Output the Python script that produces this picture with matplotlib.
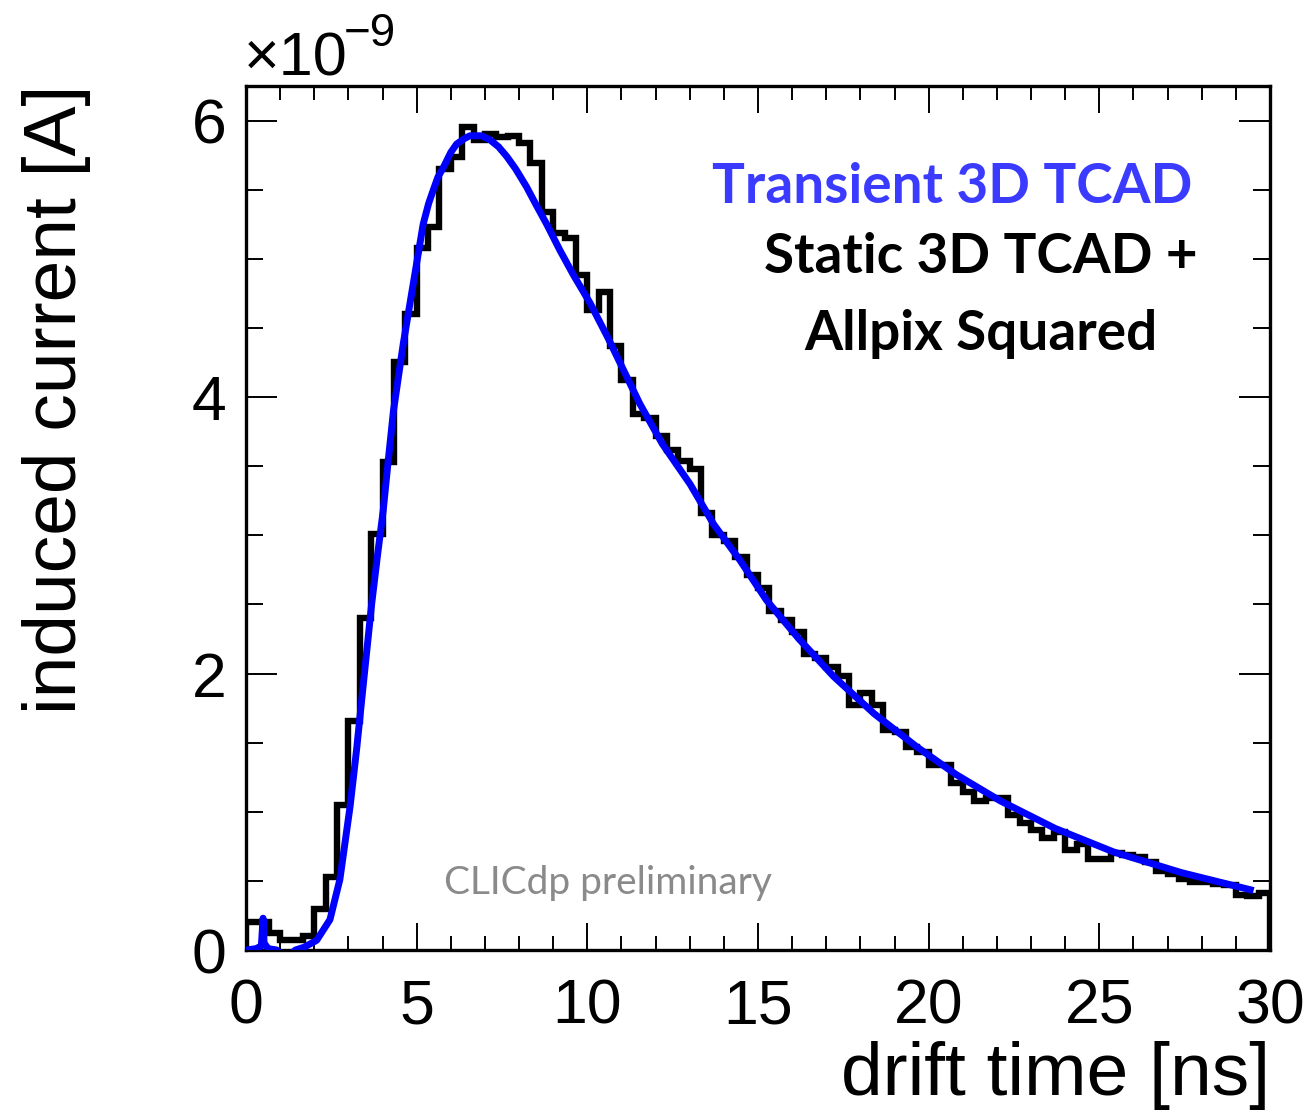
import numpy as np
import matplotlib
matplotlib.use("Agg")
import matplotlib.pyplot as plt
from matplotlib.ticker import MultipleLocator

# ---------------- data ----------------
# Static 3D TCAD + Allpix Squared histogram (90 bins, 0-30 ns), units 1e-9 A
bin_edges = np.linspace(0, 30, 91)
hist_values = [
    0.20, 0.20, 0.12, 0.07, 0.07, 0.10, 0.30, 0.53, 1.05, 1.66,
    2.40, 3.01, 3.53, 4.25, 4.60, 5.08, 5.23, 5.65, 5.74, 5.95,
    5.86, 5.90, 5.88, 5.89, 5.84, 5.69, 5.34, 5.19, 5.15, 4.88,
    4.63, 4.76, 4.37, 4.12, 3.88, 3.85, 3.72, 3.62, 3.54, 3.48,
    3.16, 3.00, 2.96, 2.84, 2.71, 2.62, 2.45, 2.39, 2.30, 2.14,
    2.11, 2.05, 1.98, 1.77, 1.86, 1.77, 1.59, 1.58, 1.47, 1.43,
    1.34, 1.34, 1.21, 1.14, 1.08, 1.10, 1.10, 0.98, 0.92, 0.87,
    0.81, 0.85, 0.72, 0.77, 0.66, 0.66, 0.70, 0.69, 0.67, 0.64,
    0.57, 0.55, 0.51, 0.49, 0.49, 0.48, 0.47, 0.40, 0.39, 0.41,
]

# Transient 3D TCAD curve
tcad_time = [0, 0.3, 0.45, 0.5, 0.53, 0.65, 0.9, 1.05, 1.3, 1.45, 1.7,
             2.07, 2.46, 2.75, 3.05, 3.24, 3.44, 3.68, 3.85, 4.02, 4.15,
             4.32, 4.61, 4.90, 5.19, 5.35, 5.49, 5.62, 5.78, 6.0, 6.17,
             6.4, 6.56, 6.9, 7.15, 7.4, 7.64, 7.9, 8.22, 8.5, 8.81,
             9.20, 9.6, 10.08, 10.6, 11.54, 12.2, 13.01, 13.7, 14.47,
             15.25, 16.2, 17.21, 18.4, 19.65, 20.8, 22.09, 23.7, 25.41,
             27.4, 29.52]
tcad_current = [0, 0.01, 0.03, 0.23, 0.05, 0.01, 0.0, -0.04, -0.03, 0.0, 0.02,
                0.07, 0.22, 0.51, 1.04, 1.45, 1.93, 2.50, 2.85, 3.18, 3.50,
                3.90, 4.39, 4.82, 5.25, 5.40, 5.50, 5.59, 5.66, 5.77, 5.83,
                5.87, 5.89, 5.89, 5.86, 5.81, 5.74, 5.65, 5.52, 5.39, 5.25,
                5.06, 4.88, 4.68, 4.43, 3.95, 3.66, 3.37, 3.08, 2.82,
                2.53, 2.25, 1.98, 1.71, 1.47, 1.27, 1.08, 0.88, 0.71,
                0.56, 0.43]

x_ticks = [0, 5, 10, 15, 20, 25, 30]
y_ticks = [0, 2, 4, 6]

# ---------------- figure ----------------
W, H = 1313, 1113
DPI = 100
plt.rcParams['font.family'] = ['Liberation Sans', 'DejaVu Sans']
fig = plt.figure(figsize=(W / DPI, H / DPI), dpi=DPI)

def fx(px):
    return px / W

def fy(py):
    return 1 - py / H

ax = fig.add_axes([fx(246), fy(950), fx(1270) - fx(246), fy(86) - fy(950)])

st = ax.stairs(hist_values, bin_edges, color='black', lw=4.6, baseline=0,
               zorder=2)
st.set_joinstyle('miter')
ax.plot(tcad_time, tcad_current, color='#0000ff', lw=5.0, zorder=3,
        solid_capstyle='butt', solid_joinstyle='round')

ax.set_xlim(0, 30)
ax.set_ylim(0, 6.25)
ax.set_xticks(x_ticks)
ax.set_yticks(y_ticks)
ax.set_xticklabels([str(v) for v in x_ticks])
ax.set_yticklabels([str(v) for v in y_ticks])
ax.xaxis.set_minor_locator(MultipleLocator(1))
ax.yaxis.set_minor_locator(MultipleLocator(0.5))

ax.tick_params(axis='both', which='both', direction='in', top=True, right=True,
               width=1.4, labelsize=45)
ax.tick_params(axis='x', which='major', length=19.5, pad=20)
ax.tick_params(axis='x', which='minor', length=10)
ax.tick_params(axis='y', which='major', length=22, pad=14)
ax.tick_params(axis='y', which='minor', length=12)
for s in ax.spines.values():
    s.set_linewidth(2.4)

# axis titles
fig.text(fx(1270), fy(1095), 'drift time [ns]', ha='right', va='baseline',
         fontsize=54)
fig.text(fx(57), fy(85), 'induced current [A]', rotation=90, ha='center',
         va='top', fontsize=54)

# exponent
fig.text(fx(244), fy(75), '\u00d710', ha='left', va='baseline', fontsize=44)
fig.text(fx(344), fy(46), '\u22129', ha='left', va='baseline', fontsize=33)

# legend-like text
fig.text(fx(952), fy(203), 'Transient 3D TCAD', ha='center', va='baseline',
         fontsize=39.5, fontweight='bold', color='#3b3bff', family='Lato')
fig.text(fx(981), fy(273), 'Static 3D TCAD +', ha='center', va='baseline',
         fontsize=39.5, fontweight='bold', color='black', family='Lato')
fig.text(fx(981), fy(350), 'Allpix Squared', ha='center', va='baseline',
         fontsize=39.5, fontweight='bold', color='black', family='Lato')

fig.text(fx(608), fy(894), 'CLICdp preliminary', ha='center', va='baseline',
         fontsize=28, color='#8a8a8a', family='Lato')

fig.savefig('out.png', dpi=DPI)
